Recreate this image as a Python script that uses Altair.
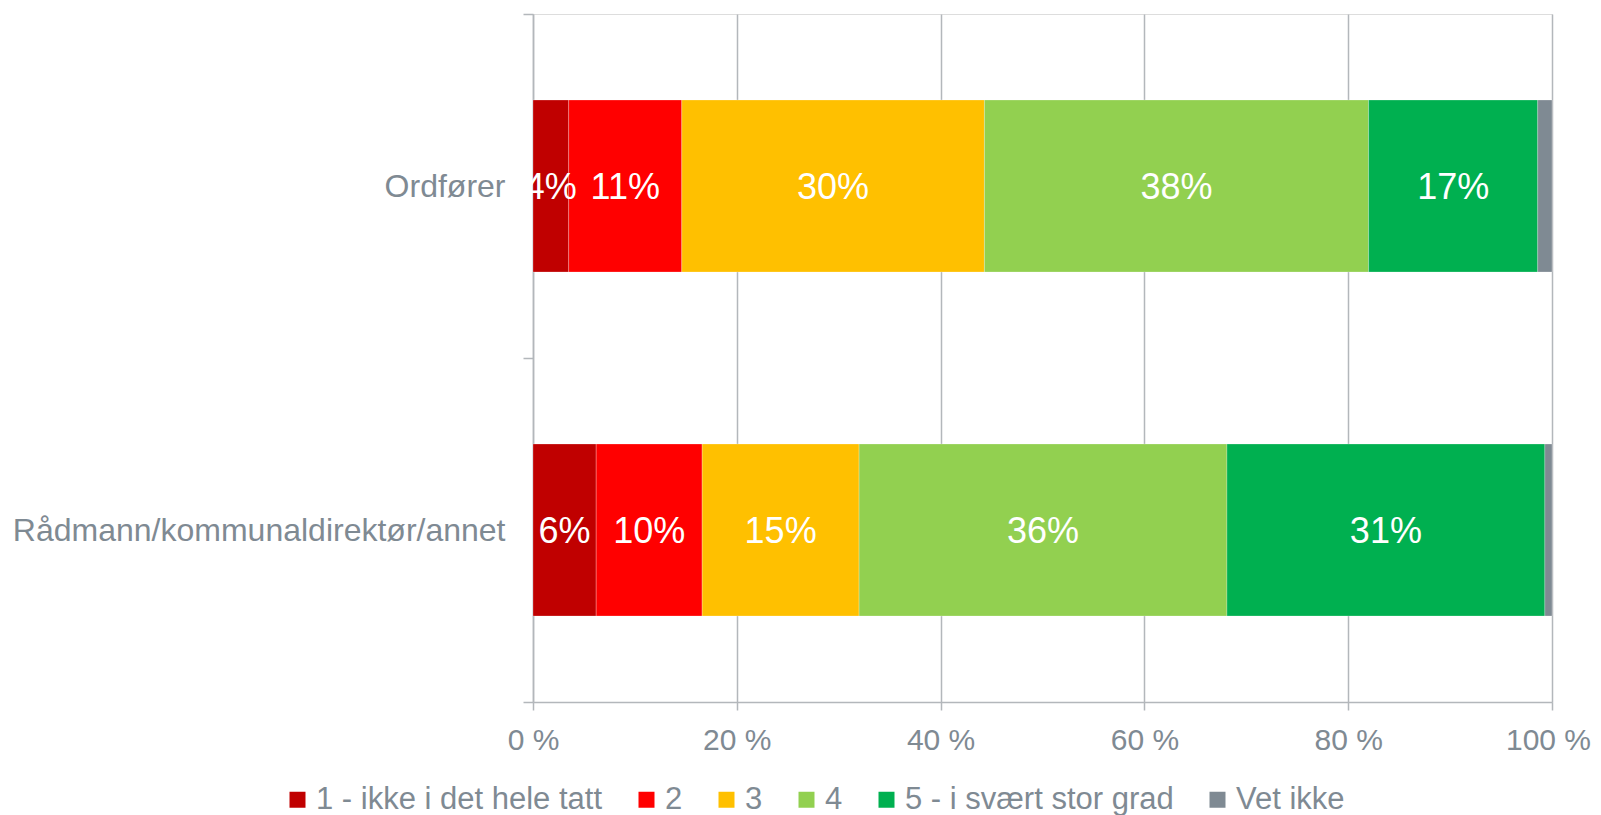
import altair as alt
import pandas as pd

rows = ["Ordfører", "Rådmann/kommunaldirektør/annet"]
categories = ["1 - ikke i det hele tatt", "2", "3", "4", "5 - i svært stor grad", "Vet ikke"]
colors = ["#c00000", "#ff0000", "#ffc000", "#92d050", "#00b050", "#7f8a93"]
ordforer = [3.5, 11.1, 29.7, 37.7, 16.6, 1.4]
radmann = [6.2, 10.4, 15.4, 36.1, 31.2, 0.7]
x_ticks = [0, 20, 40, 60, 80, 100]

records = []
for r, vals in zip(rows, [ordforer, radmann]):
    for i, (c, v) in enumerate(zip(categories, vals)):
        records.append({"row": r, "cat": c, "order": i, "value": v})
df = pd.DataFrame(records)

GREY_TXT = "#7f8a93"
GREY_LINE = "#b3b7bb"
FONT = "Liberation Sans"

base = alt.Chart(df).transform_stack(
    stack="value", groupby=["row"], as_=["x0", "x1"], sort=[alt.SortField("order")]
).transform_calculate(
    mid="(datum.x0 + datum.x1) / 2",
    label="format(datum.value, '.0f') + '%'",
)

ysc = alt.Scale(domain=rows, paddingInner=0, paddingOuter=0)
xsc = alt.Scale(domain=[0, 100], nice=False)

yaxis = alt.Axis(
    title=None, domain=True, domainColor=GREY_LINE, domainWidth=1.5,
    ticks=True, tickBand="extent", tickSize=10, tickColor=GREY_LINE, tickWidth=1.5,
    labelFontSize=32, labelColor=GREY_TXT, labelPadding=18, labelFont=FONT,
    labelLimit=1000, grid=False,
)
xaxis = alt.Axis(
    title=None, values=x_ticks, labelExpr="datum.value + ' %'",
    domain=True, domainColor=GREY_LINE, domainWidth=1.5,
    ticks=True, tickSize=8, tickColor=GREY_LINE, tickWidth=1.5,
    grid=True, gridColor=GREY_LINE, gridWidth=1.5,
    labelFontSize=30, labelColor=GREY_TXT, labelPadding=15, labelFont=FONT,
    labelFlush=False, labelOverlap=False,
    labelOffset={"condition": {"test": "datum.value === 100", "value": -4}, "value": 0},
)

bars = base.mark_bar(size=172, stroke="#ffffff", strokeWidth=0.6, strokeOpacity=0.4).encode(
    y=alt.Y("row:N", scale=ysc, axis=yaxis, sort=rows),
    x=alt.X("x0:Q", scale=xsc, axis=xaxis),
    x2="x1:Q",
    color=alt.Color(
        "cat:N",
        scale=alt.Scale(domain=categories, range=colors),
        legend=alt.Legend(
            title=None, orient="none", legendX=-251, legendY=770,
            direction="horizontal", symbolType="square", symbolSize=256,
            symbolStrokeWidth=0, labelFontSize=31, labelColor=GREY_TXT,
            labelFont=FONT, labelOffset=3, columnPadding=28, labelLimit=1000,
            padding=0,
        ),
    ),
    order=alt.Order("order:Q"),
)

labels = base.transform_filter("datum.cat != 'Vet ikke'").mark_text(
    color="white", fontSize=36, font=FONT, baseline="middle", align="center", dy=2
).encode(
    y=alt.Y("row:N", scale=ysc, sort=rows),
    x=alt.X("mid:Q", scale=xsc),
    text="label:N",
)

chart = alt.layer(bars, labels).properties(
    width=1019, height=688,
    autosize=alt.AutoSizeParams(type="none"),
    padding={"left": 525, "top": 6, "right": 41, "bottom": 113},
).configure_view(stroke=None).configure(font=FONT)

chart.save("out.html", embed_options={"renderer": "svg", "actions": False})
